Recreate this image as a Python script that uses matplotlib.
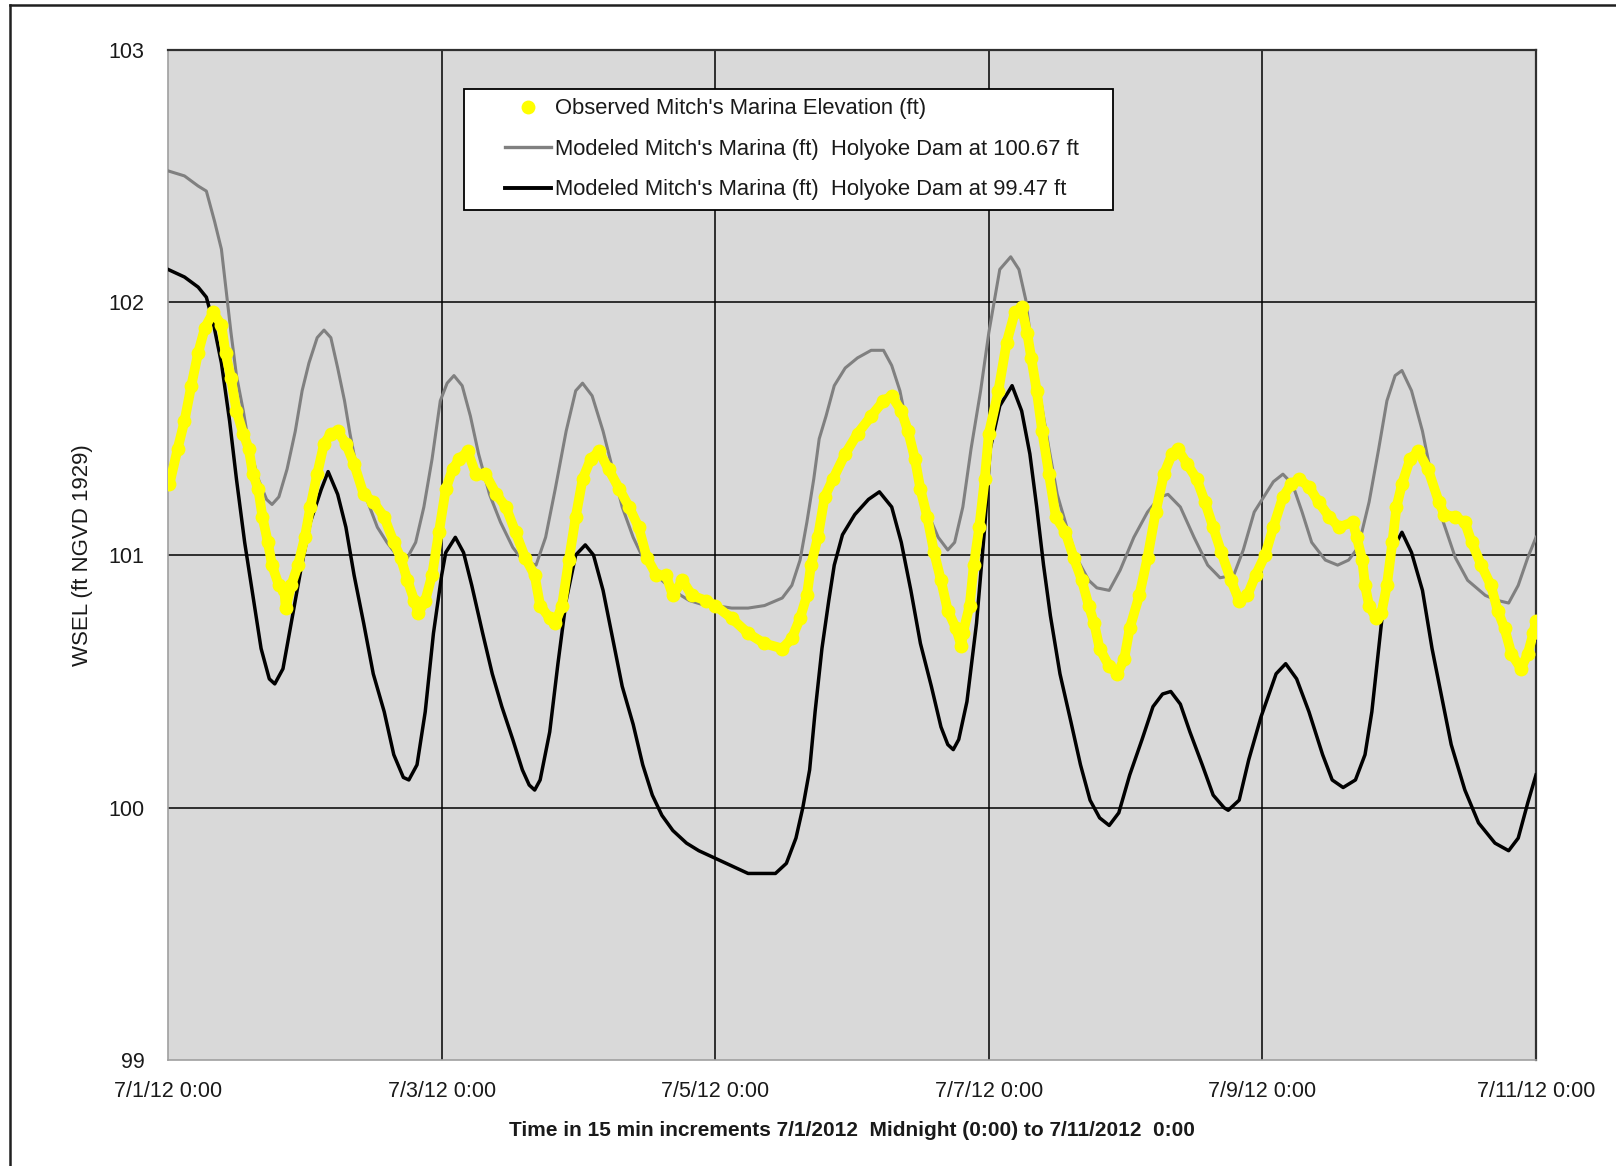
import matplotlib
matplotlib.use("Agg")
import matplotlib.pyplot as plt
from matplotlib.lines import Line2D
from matplotlib.legend_handler import HandlerLine2D

# time axis: days after 7/1/2012 0:00
tick_days = [0, 2, 4, 6, 8, 10]
tick_labels = ["7/1/12 0:00", "7/3/12 0:00", "7/5/12 0:00",
               "7/7/12 0:00", "7/9/12 0:00", "7/11/12 0:00"]
y_ticks = [99, 100, 101, 102, 103]

# modeled, Holyoke Dam at 99.47 ft (black)
low_t = [0.00, 0.12, 0.22, 0.28, 0.33, 0.39, 0.45, 0.50, 0.56, 0.62, 0.68, 0.74, 0.78, 0.84, 0.90, 0.97,
         1.04, 1.12, 1.17, 1.24, 1.30, 1.36, 1.43, 1.50, 1.58, 1.65, 1.72, 1.76, 1.82, 1.88, 1.94, 2.00,
         2.03, 2.10, 2.16, 2.22, 2.30, 2.37, 2.44, 2.52, 2.59, 2.64, 2.68, 2.72, 2.79, 2.85, 2.91, 2.98,
         3.05, 3.11, 3.18, 3.25, 3.32, 3.40, 3.47, 3.54, 3.61, 3.69, 3.79, 3.88, 4.00,
         4.12, 4.24, 4.44, 4.52, 4.59, 4.64, 4.69, 4.73, 4.78, 4.83, 4.87, 4.93, 5.02, 5.12, 5.20, 5.29,
         5.36, 5.43, 5.50, 5.58, 5.65, 5.70, 5.74, 5.78, 5.84, 5.91, 5.97,
         6.01, 6.08, 6.17, 6.24, 6.30, 6.35, 6.40, 6.45, 6.52, 6.60, 6.67, 6.74, 6.81, 6.88, 6.95, 7.03,
         7.12, 7.20, 7.27, 7.33, 7.40, 7.47, 7.56, 7.64, 7.72, 7.75, 7.83, 7.90, 7.99,
         8.10, 8.17, 8.25, 8.34, 8.44, 8.51, 8.59, 8.68, 8.75, 8.80, 8.85, 8.90, 8.96, 9.02, 9.09, 9.17,
         9.24, 9.31, 9.38, 9.48, 9.58, 9.70, 9.80, 9.87, 9.94, 10.00]
low_wsel = [102.13, 102.10, 102.06, 102.02, 101.92, 101.76, 101.53, 101.30, 101.05, 100.84, 100.63, 100.51,
            100.49, 100.55, 100.73, 100.94, 101.13, 101.26, 101.33, 101.24, 101.11, 100.92, 100.73, 100.53,
            100.38, 100.21, 100.12, 100.11, 100.17, 100.38, 100.69, 100.92,
            101.01, 101.07, 101.01, 100.88, 100.69, 100.53, 100.40, 100.27, 100.15, 100.09, 100.07, 100.11,
            100.30, 100.57, 100.82, 101.00, 101.04, 101.00, 100.86, 100.67, 100.48, 100.33, 100.17, 100.05,
            99.97, 99.91, 99.86, 99.83, 99.80,
            99.77, 99.74, 99.74, 99.78, 99.88, 100.00, 100.15, 100.38, 100.63, 100.82, 100.96, 101.08,
            101.16, 101.22, 101.25, 101.19, 101.05, 100.86, 100.65, 100.48, 100.32, 100.25, 100.23, 100.27,
            100.42, 100.73, 101.11,
            101.42, 101.59, 101.67, 101.57, 101.40, 101.19, 100.96, 100.76, 100.53, 100.34, 100.17, 100.03,
            99.96, 99.93, 99.98, 100.13, 100.27, 100.40, 100.45, 100.46, 100.41, 100.30, 100.17, 100.05,
            100.00, 99.99, 100.03, 100.19, 100.36,
            100.53, 100.57, 100.51, 100.38, 100.21, 100.11, 100.08, 100.11, 100.21, 100.38, 100.63, 100.88,
            101.03, 101.09, 101.01, 100.86, 100.63, 100.44, 100.25, 100.07, 99.94, 99.86, 99.83, 99.88,
            100.02, 100.13]

# modeled, Holyoke Dam at 100.67 ft (gray)
high_t = [0.00, 0.12, 0.22, 0.28, 0.34, 0.39, 0.42, 0.46, 0.50, 0.55, 0.59, 0.66, 0.72, 0.76, 0.81, 0.87,
          0.93, 0.98, 1.03, 1.09, 1.14, 1.19, 1.24, 1.29, 1.33, 1.38, 1.46, 1.53, 1.60, 1.67, 1.75, 1.81,
          1.87, 1.93, 1.99, 2.04,
          2.09, 2.15, 2.21, 2.27, 2.35, 2.43, 2.52, 2.59, 2.69, 2.76, 2.83, 2.91, 2.98, 3.03, 3.10, 3.18,
          3.25, 3.32, 3.40, 3.47, 3.57, 3.69, 3.81, 3.93,
          4.00, 4.12, 4.24, 4.36, 4.49, 4.56, 4.62, 4.67, 4.72, 4.76, 4.81, 4.87, 4.95, 5.04, 5.14, 5.23,
          5.29, 5.35, 5.41, 5.48, 5.55, 5.63, 5.70, 5.75, 5.81, 5.87, 5.94, 6.00,
          6.08, 6.16, 6.22, 6.27, 6.31, 6.38, 6.44, 6.50, 6.57, 6.64, 6.73, 6.79, 6.88, 6.96, 7.06, 7.16,
          7.25, 7.31, 7.40, 7.50, 7.60, 7.69, 7.79, 7.86, 7.94,
          8.01, 8.08, 8.15, 8.22, 8.29, 8.36, 8.46, 8.55, 8.63, 8.70, 8.78, 8.85, 8.91, 8.97, 9.02, 9.09,
          9.17, 9.24, 9.31, 9.41, 9.50, 9.63, 9.72, 9.80, 9.87, 9.94, 10.00]
high_wsel = [102.52, 102.50, 102.46, 102.44, 102.32, 102.21, 102.07, 101.88, 101.71, 101.57, 101.44, 101.30,
             101.22, 101.20, 101.23, 101.34, 101.49, 101.65, 101.76, 101.86, 101.89, 101.86, 101.74, 101.61,
             101.48, 101.34, 101.21, 101.11, 101.05, 101.00, 100.99, 101.05, 101.19, 101.38, 101.61, 101.68,
             101.71, 101.67, 101.55, 101.40, 101.24, 101.13, 101.03, 100.98, 100.96, 101.07, 101.26, 101.49,
             101.65, 101.68, 101.63, 101.49, 101.34, 101.19, 101.07, 100.99, 100.92, 100.86, 100.82, 100.80,
             100.80, 100.79, 100.79, 100.80, 100.83, 100.88, 100.98, 101.13, 101.30, 101.46, 101.55, 101.67,
             101.74, 101.78, 101.81, 101.81, 101.75, 101.65, 101.49, 101.32, 101.17, 101.07, 101.02, 101.05,
             101.19, 101.42, 101.65, 101.88,
             102.13, 102.18, 102.13, 102.01, 101.84, 101.61, 101.42, 101.24, 101.11, 100.99, 100.90, 100.87,
             100.86, 100.94, 101.07, 101.17, 101.23, 101.24, 101.19, 101.07, 100.96, 100.91, 100.92, 101.02,
             101.17,
             101.23, 101.29, 101.32, 101.28, 101.17, 101.05, 100.98, 100.96, 100.98, 101.03, 101.21, 101.42,
             101.61, 101.71, 101.73, 101.65, 101.49, 101.30, 101.15, 100.99, 100.90, 100.84, 100.82, 100.81,
             100.88, 100.99, 101.07]

# observed Mitch's Marina elevation (yellow dots)
obs_t = [0.01, 0.07, 0.12, 0.17, 0.22, 0.27, 0.33, 0.39, 0.42, 0.46, 0.50, 0.55, 0.59, 0.62, 0.66, 0.69,
         0.73, 0.76, 0.81, 0.85, 0.86, 0.90, 0.95, 1.00, 1.04, 1.09, 1.14, 1.19, 1.24, 1.30, 1.36, 1.43,
         1.50, 1.58, 1.65, 1.70, 1.75, 1.80, 1.83, 1.88, 1.93, 1.98,
         2.03, 2.08, 2.13, 2.19, 2.25, 2.32, 2.40, 2.47, 2.54, 2.61, 2.68, 2.72, 2.79, 2.83, 2.88, 2.93,
         2.98, 3.03, 3.09, 3.15, 3.22, 3.30, 3.37, 3.44, 3.50, 3.57, 3.64, 3.69, 3.76, 3.83, 3.93, 4.00,
         4.12, 4.24, 4.36, 4.49, 4.56, 4.62, 4.67, 4.70, 4.75, 4.80, 4.86, 4.95, 5.04, 5.14, 5.23, 5.29,
         5.36, 5.41, 5.46, 5.50, 5.55, 5.60, 5.65, 5.70, 5.76, 5.80, 5.81, 5.86, 5.89, 5.93, 5.97, 6.00,
         6.07, 6.13, 6.19, 6.24, 6.28, 6.31, 6.35, 6.39, 6.44, 6.49, 6.56, 6.62, 6.68, 6.73, 6.77, 6.81,
         6.88, 6.94, 6.99, 7.03, 7.10, 7.16, 7.22, 7.28, 7.34, 7.38, 7.45, 7.52, 7.58, 7.64, 7.70, 7.77,
         7.83, 7.89, 7.95,
         8.02, 8.08, 8.15, 8.21, 8.27, 8.34, 8.41, 8.49, 8.56, 8.66, 8.69, 8.73, 8.75, 8.78, 8.83, 8.87,
         8.91, 8.95, 8.98, 9.02, 9.08, 9.14, 9.21, 9.29, 9.33, 9.41, 9.48, 9.53, 9.60, 9.67, 9.72, 9.77,
         9.82, 9.89, 9.94, 9.98, 10.00]
obs_wsel = [101.28, 101.42, 101.53, 101.67, 101.80, 101.90, 101.96, 101.91, 101.80, 101.70, 101.57, 101.48,
            101.42, 101.32, 101.26, 101.15, 101.05, 100.96, 100.88, 100.86, 100.79, 100.88, 100.96, 101.07,
            101.19, 101.32, 101.44, 101.48, 101.49, 101.44, 101.36, 101.24, 101.21, 101.15, 101.05, 100.99,
            100.90, 100.82, 100.77, 100.82, 100.92, 101.09,
            101.26, 101.34, 101.38, 101.41, 101.32, 101.32, 101.24, 101.19, 101.09, 100.99, 100.92, 100.80,
            100.75, 100.73, 100.80, 100.98, 101.15, 101.30, 101.38, 101.41, 101.34, 101.26, 101.19, 101.11,
            100.99, 100.92, 100.92, 100.84, 100.90, 100.84, 100.82, 100.80,
            100.75, 100.69, 100.65, 100.63, 100.67, 100.75, 100.84, 100.96, 101.07, 101.23, 101.30, 101.40,
            101.48, 101.55, 101.61, 101.63, 101.57, 101.49, 101.38, 101.26, 101.15, 101.01, 100.90, 100.78,
            100.71, 100.64, 100.69, 100.80, 100.96, 101.11, 101.30, 101.48,
            101.65, 101.84, 101.96, 101.98, 101.88, 101.78, 101.65, 101.49, 101.32, 101.15, 101.09, 100.99,
            100.90, 100.80, 100.73, 100.63, 100.56, 100.53, 100.59, 100.71, 100.84, 100.99, 101.17, 101.32,
            101.40, 101.42, 101.36, 101.30, 101.21, 101.11, 101.01, 100.90, 100.82, 100.84, 100.92,
            101.00, 101.11, 101.23, 101.28, 101.30, 101.27, 101.21, 101.15, 101.11, 101.13, 101.07, 100.98,
            100.88, 100.80, 100.75, 100.77, 100.88, 101.05, 101.19, 101.28, 101.38, 101.41, 101.34, 101.21,
            101.16, 101.15, 101.13, 101.05, 100.96, 100.88, 100.78, 100.71, 100.61, 100.55, 100.61, 100.69,
            100.74]

legend_labels = ["Observed Mitch's Marina Elevation (ft)",
                 "Modeled Mitch's Marina (ft)  Holyoke Dam at 100.67 ft",
                 "Modeled Mitch's Marina (ft)  Holyoke Dam at 99.47 ft"]

plt.rcParams['font.family'] = ['Liberation Sans', 'DejaVu Sans']

fig = plt.figure(figsize=(16.16, 11.66), dpi=100)
ax = fig.add_axes([0.1040, 0.0905, 0.8465, 0.867])
ax.set_facecolor('#d9d9d9')

# gridlines
for y in y_ticks[1:]:
    ax.axhline(y, color='black', lw=1.1, zorder=1)
for x in tick_days[1:]:
    ax.axvline(x, color='black', lw=1.1, zorder=1)

ax.plot(high_t, high_wsel, color='#808080', lw=2.2, zorder=3)
ax.plot(low_t, low_wsel, color='black', lw=2.5, zorder=3)
ax.plot(obs_t, obs_wsel, color='#ffff00', lw=7.0, marker='o', ms=10,
        markeredgewidth=0, solid_capstyle='round', solid_joinstyle='round', zorder=4)

ax.set_xlim(0, 10)
ax.set_ylim(99, 103)
ax.set_xticks(tick_days)
ax.set_xticklabels(tick_labels)
ax.set_yticks(y_ticks)
ax.tick_params(axis='both', length=0, labelsize=15.5, colors='#1a1a1a')
ax.tick_params(axis='y', pad=17)
ax.tick_params(axis='x', pad=15)

for side in ['left', 'bottom']:
    ax.spines[side].set_color('#a0a0a0')
    ax.spines[side].set_linewidth(1.2)
for side in ['top', 'right']:
    ax.spines[side].set_color('#303030')
    ax.spines[side].set_linewidth(1.6)

ax.set_ylabel("WSEL (ft NGVD 1929)", fontsize=16, color='#1a1a1a', va='center')
ax.yaxis.set_label_coords(-0.0629, 0.5)
ax.set_xlabel("Time in 15 min increments 7/1/2012  Midnight (0:00) to 7/11/2012  0:00",
              fontsize=15, fontweight='bold', color='#1a1a1a', va='center')
ax.xaxis.set_label_coords(0.5, -0.0697)

handles = [
    Line2D([], [], color='#ffff00', marker='o', ms=10, lw=0, markeredgewidth=0),
    Line2D([], [], color='#808080', lw=2.4),
    Line2D([], [], color='black', lw=2.8),
]
hmap = {h: HandlerLine2D(xpad=1.44, numpoints=1) for h in handles}
leg = ax.legend(handles, legend_labels, loc='upper left',
                bbox_to_anchor=(0.216, 0.961, 0.475, 0), mode='expand',
                borderaxespad=0, fontsize=15.8, frameon=True, fancybox=False,
                framealpha=1, edgecolor='black', facecolor='white',
                handlelength=3.54, handletextpad=0.22, borderpad=0.43,
                labelspacing=0.89, handler_map=hmap)
leg.get_frame().set_linewidth(1.3)
for txt in leg.get_texts():
    txt.set_color('#1a1a1a')

# outer chart frame (left and top edges)
fig.add_artist(Line2D([10 / 1616, 10 / 1616], [0, 1 - 5 / 1166],
                      transform=fig.transFigure, color='#202020', lw=1.8))
fig.add_artist(Line2D([10 / 1616, 1], [1 - 5 / 1166, 1 - 5 / 1166],
                      transform=fig.transFigure, color='#202020', lw=1.8))

fig.savefig('out.png', dpi=100)
